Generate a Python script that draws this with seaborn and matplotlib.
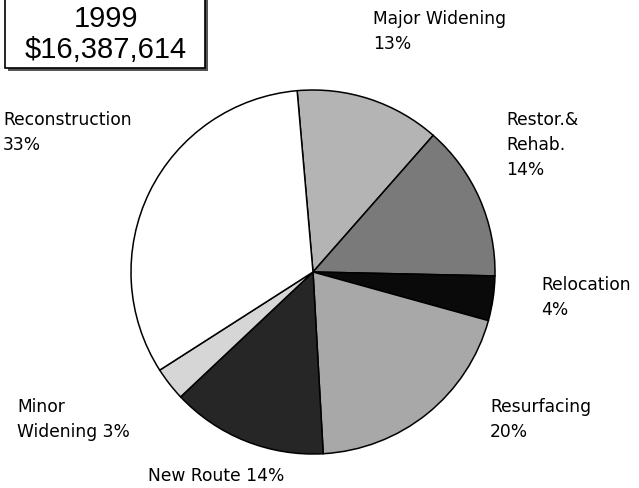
import matplotlib
matplotlib.use("Agg")
import matplotlib.pyplot as plt
import seaborn as sns
from matplotlib.patches import Rectangle

sns.set_theme(style="white")
plt.rcParams['font.family'] = ['DejaVu Sans']

# Data
categories = ["Major Widening", "Restor.& Rehab.", "Relocation", "Resurfacing",
              "New Route", "Minor Widening", "Reconstruction"]
values = [13, 14, 4, 20, 14, 3, 33]
label_texts = ["Major Widening\n13%", "Restor.&\nRehab.\n14%", "Relocation\n4%",
               "Resurfacing\n20%", "New Route 14%", "Minor\nWidening 3%",
               "Reconstruction\n33%"]
title_year = "1999"
title_total = "$16,387,614"

colors = ["#b4b4b4", "#7a7a7a", "#0a0a0a", "#a8a8a8", "#262626", "#d6d6d6", "#ffffff"]

W, H = 639, 488
fig = plt.figure(figsize=(W / 100, H / 100), dpi=100)
ax = fig.add_axes([0, 0, 1, 1])

ax.pie(values, colors=colors, startangle=95, counterclock=False,
       center=(313, H - 272), radius=182,
       wedgeprops=dict(edgecolor="black", linewidth=1.1))
ax.set_xlim(0, W)
ax.set_ylim(0, H)
ax.set_aspect("equal")
ax.set_position([0, 0, 1, 1])
ax.axis("off")

# label positions in pixel coordinates (left, top)
label_pos = [(373, 10), (506, 111), (541, 276), (490, 398), (148, 467),
             (17, 398), (3, 111)]
for txt, (x, y) in zip(label_texts, label_pos):
    ax.text(x, H - y, txt, ha="left", va="top", fontsize=12.3,
            color="black", linespacing=1.5)

# title box with shadow
ax.add_patch(Rectangle((8, H - 71), 200, 90, facecolor="#555555",
                       edgecolor="none", zorder=4, clip_on=False))
ax.add_patch(Rectangle((5, H - 68), 200, 90, facecolor="white",
                       edgecolor="black", linewidth=1.2, zorder=5, clip_on=False))
ax.text(106, H - 19, title_year, ha="center", va="center", fontsize=21,
        family="Liberation Sans", color="black", zorder=6)
ax.text(106, H - 50, title_total, ha="center", va="center", fontsize=21,
        family="Liberation Sans", color="black", zorder=6)

fig.savefig("out.png", dpi=100)
